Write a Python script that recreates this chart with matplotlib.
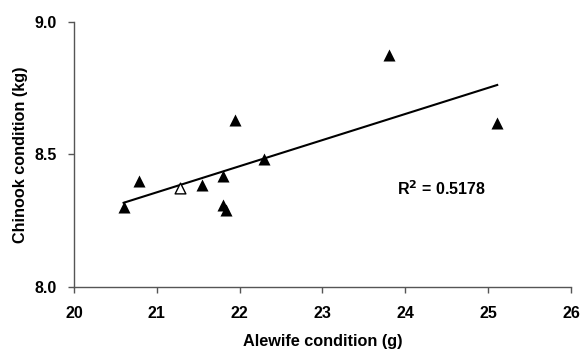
import numpy as np
import matplotlib
matplotlib.use("Agg")
import matplotlib.pyplot as plt

plt.rcParams['font.family'] = ['Liberation Sans', 'DejaVu Sans']
plt.rcParams['font.weight'] = 'bold'

# Data (filled triangles)
alewife = [20.60, 20.78, 21.55, 21.80, 21.80, 21.83, 21.94, 22.29, 23.80, 25.11]
chinook = [8.30, 8.40, 8.385, 8.42, 8.31, 8.29, 8.63, 8.483, 8.875, 8.62]
# Open triangle
alewife_open = [21.28]
chinook_open = [8.375]

r2_text = "R$^{2}$ = 0.5178"
x_ticks = [20, 21, 22, 23, 24, 25, 26]
y_ticks = [8.0, 8.5, 9.0]

fig = plt.figure(figsize=(5.82, 3.49), dpi=100)
ax = fig.add_axes([0.127, 0.178, 0.854, 0.759])

all_x = np.array(alewife + alewife_open)
all_y = np.array(chinook + chinook_open)
coef = np.polyfit(all_x, all_y, 1)
xl = np.array([all_x.min(), all_x.max()])
ax.plot(xl, np.polyval(coef, xl), color='black', lw=1.5, zorder=2)

ax.scatter(alewife, chinook, marker='^', s=75, color='black', zorder=3, linewidths=0)
ax.scatter(alewife_open, chinook_open, marker='^', s=60, facecolor='white',
           edgecolor='black', linewidths=1, zorder=3)

ax.text(23.9, 8.37, r2_text, fontsize=11.5, fontweight='bold', ha='left', va='center')

ax.set_xlim(20, 26)
ax.set_ylim(8.0, 9.0)
ax.set_xticks(x_ticks)
ax.set_yticks(y_ticks)
ax.set_yticklabels([f"{v:.1f}" for v in y_ticks])
for s in ['top', 'right']:
    ax.spines[s].set_visible(False)
for s in ['left', 'bottom']:
    ax.spines[s].set_color('#555555')
    ax.spines[s].set_linewidth(1)
ax.tick_params(direction='out', length=4, width=1, color='#555555', labelsize=11.5)
ax.tick_params(axis='x', pad=10)
ax.tick_params(axis='y', pad=8)
for lab in ax.get_xticklabels() + ax.get_yticklabels():
    lab.set_fontweight('bold')

ax.set_xlabel("Alewife condition (g)", fontsize=11.7, fontweight='bold', labelpad=9)
ax.set_ylabel("Chinook condition (kg)", fontsize=11.7, fontweight='bold', labelpad=5)

fig.savefig("out.png", dpi=100)
